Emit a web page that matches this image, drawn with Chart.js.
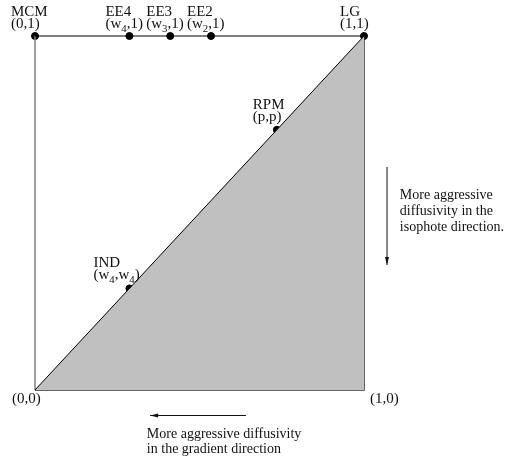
<!DOCTYPE html>
<html>
<head>
<meta charset="utf-8">
<script src="https://cdn.jsdelivr.net/npm/chart.js@4.4.0/dist/chart.umd.min.js"></script>
<style>
    body { margin: 0; background: #fff; }
    canvas { display: block; }
</style>
</head>
<body>
<canvas id="diagram" width="509" height="459"></canvas>
<script>
// named points on the unit square
const pointNames = ['MCM', 'EE4', 'EE3', 'EE2', 'LG', 'RPM', 'IND'];
const pointCoords = ['(0,1)', '(w_4,1)', '(w_3,1)', '(w_2,1)', '(1,1)', '(p,p)', '(w_4,w_4)'];
const pointX = [0, 0.287, 0.411, 0.535, 1, 0.735, 0.287];
const pointY = [1, 1, 1, 1, 1, 0.735, 0.287];

// corner labels without dots
const cornerLabels = ['(0,0)', '(1,0)'];
const cornerX = [0, 1];
const cornerY = [0, 0];

// side notes
const sideNote = ['More aggressive', 'diffusivity in the', 'isophote direction.'];
const bottomNote = ['More aggressive diffusivity', 'in the gradient direction'];

const serif = '"Liberation Serif", "DejaVu Serif", serif';

// draws a string where "_x" means x as a subscript
function drawSubText(ctx, str, x, y, size) {
    let cx = x;
    for (let i = 0; i < str.length; i++) {
        let ch = str[i];
        if (ch === '_' && i + 1 < str.length) {
            i++;
            ctx.font = (size * 0.72) + 'px ' + serif;
            ctx.fillText(str[i], cx, y + size * 0.25);
            cx += ctx.measureText(str[i]).width;
        } else {
            ctx.font = size + 'px ' + serif;
            ctx.fillText(ch, cx, y);
            cx += ctx.measureText(ch).width;
        }
    }
}

function arrow(ctx, x1, y1, x2, y2) {
    const ang = Math.atan2(y2 - y1, x2 - x1);
    ctx.beginPath();
    ctx.moveTo(x1, y1);
    ctx.lineTo(x2, y2);
    ctx.stroke();
    ctx.beginPath();
    ctx.moveTo(x2, y2);
    ctx.lineTo(x2 - 8 * Math.cos(ang) + 2 * Math.sin(ang), y2 - 8 * Math.sin(ang) - 2 * Math.cos(ang));
    ctx.lineTo(x2 - 8 * Math.cos(ang) - 2 * Math.sin(ang), y2 - 8 * Math.sin(ang) + 2 * Math.cos(ang));
    ctx.closePath();
    ctx.fill();
}

const labelPlugin = {
    id: 'labels',
    afterDatasetsDraw(chart) {
        const ctx = chart.ctx;
        const xs = chart.scales.x, ys = chart.scales.y;
        ctx.save();
        ctx.fillStyle = '#111';
        ctx.strokeStyle = '#111';
        ctx.textBaseline = 'alphabetic';
        ctx.textAlign = 'left';

        pointNames.forEach((name, i) => {
            const px = xs.getPixelForValue(pointX[i]);
            const py = ys.getPixelForValue(pointY[i]);
            const dx = name === 'IND' ? -36 : -24;
            const top = pointY[i] === 1 ? -20 : -21;
            drawSubText(ctx, name, px + dx, py + top, 15);
            drawSubText(ctx, pointCoords[i], px + dx, py + top + 12, 15);
        });

        cornerLabels.forEach((lab, i) => {
            const px = xs.getPixelForValue(cornerX[i]);
            const py = ys.getPixelForValue(cornerY[i]);
            const dx = cornerX[i] === 0 ? -23 : 6;
            drawSubText(ctx, lab, px + dx, py + 13, 15);
        });

        // arrows, placed in data units outside the square
        ctx.lineWidth = 1;
        arrow(ctx, xs.getPixelForValue(1.07), ys.getPixelForValue(0.63),
                   xs.getPixelForValue(1.07), ys.getPixelForValue(0.353));
        arrow(ctx, xs.getPixelForValue(0.641), ys.getPixelForValue(-0.072),
                   xs.getPixelForValue(0.35), ys.getPixelForValue(-0.072));

        ctx.font = '14px ' + serif;
        sideNote.forEach((line, i) => {
            ctx.fillText(line, xs.getPixelForValue(1.109), ys.getPixelForValue(0.539) + i * 16);
        });
        bottomNote.forEach((line, i) => {
            ctx.fillText(line, xs.getPixelForValue(0.34), ys.getPixelForValue(-0.136) + i * 15);
        });
        ctx.restore();
    }
};

const pts = pointX.map((x, i) => ({ x: x, y: pointY[i] }));

new Chart(document.getElementById('diagram'), {
    type: 'scatter',
    data: {
        datasets: [
            {
                // shaded region under the diagonal
                data: [{ x: 0, y: 0 }, { x: 1, y: 1 }],
                showLine: true,
                fill: 'origin',
                backgroundColor: '#c0c0c0',
                borderColor: '#000',
                borderWidth: 1,
                pointRadius: 0,
                clip: false
            },
            {
                data: [{ x: 0, y: 1 }, { x: 1, y: 1 }],
                showLine: true,
                borderColor: '#000',
                borderWidth: 1.2,
                pointRadius: 0,
                clip: false
            },
            {
                data: [{ x: 0, y: 0 }, { x: 0, y: 1 }],
                showLine: true,
                borderColor: '#808080',
                borderWidth: 1.5,
                pointRadius: 0,
                clip: false
            },
            {
                data: [{ x: 1, y: 1 }, { x: 1, y: 0 }, { x: 0, y: 0 }],
                showLine: true,
                borderColor: '#333',
                borderWidth: 1.5,
                pointRadius: 0,
                clip: false
            },
            {
                data: pts,
                showLine: false,
                pointRadius: 3.5,
                pointBackgroundColor: '#000',
                pointBorderColor: '#000',
                clip: false
            }
        ]
    },
    options: {
        responsive: false,
        animation: false,
        layout: { padding: { left: 35, right: 145, top: 36, bottom: 69 } },
        scales: {
            x: { type: 'linear', min: 0, max: 1, display: false },
            y: { type: 'linear', min: 0, max: 1, display: false }
        },
        plugins: {
            legend: { display: false },
            tooltip: { enabled: false }
        }
    },
    plugins: [labelPlugin]
});
</script>
</body>
</html>
